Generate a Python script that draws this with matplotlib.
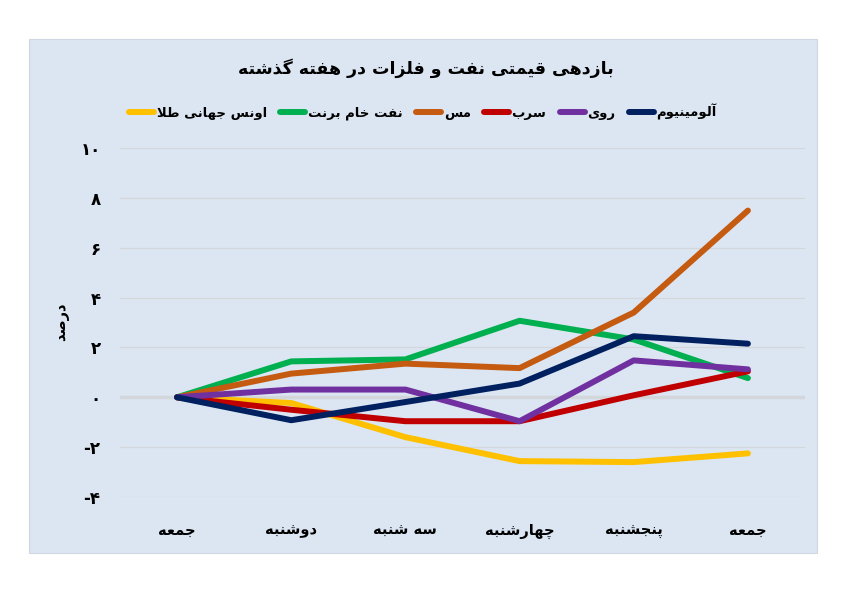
import matplotlib
matplotlib.use("Agg")
import matplotlib.pyplot as plt
from matplotlib.patches import Rectangle

# data (percent)
days = ["جمعه", "دوشنبه", "سه شنبه", "چهارشنبه", "پنجشنبه", "جمعه"]
gold = [0, -0.23, -1.6, -2.56, -2.6, -2.25]
brent = [0, 1.44, 1.52, 3.07, 2.32, 0.77]
copper = [0, 0.95, 1.35, 1.17, 3.4, 7.49]
lead = [0, -0.5, -0.96, -0.96, 0.08, 1.04]
zinc = [0, 0.31, 0.31, -0.96, 1.48, 1.12]
aluminium = [0, -0.92, -0.19, 0.55, 2.45, 2.15]

names = ["اونس جهانی طلا", "نفت خام برنت", "مس", "سرب", "روی", "آلومینیوم"]
colors = ["#FFC000", "#00B050", "#C55A11", "#C00000", "#7030A0", "#002060"]
yticks = [-4, -2, 0, 2, 4, 6, 8, 10]

title = "بازدهی قیمتی نفت و فلزات در هفته گذشته"
ylabel = "درصد"

# --- minimal persian shaping (matplotlib draws glyphs one by one, left to right)
FORMS = {
    "ا": (0xFE8D, 0xFE8E, None, None), "آ": (0xFE81, 0xFE82, None, None),
    "ب": (0xFE8F, 0xFE90, 0xFE91, 0xFE92), "پ": (0xFB56, 0xFB57, 0xFB58, 0xFB59),
    "ت": (0xFE95, 0xFE96, 0xFE97, 0xFE98), "ج": (0xFE9D, 0xFE9E, 0xFE9F, 0xFEA0),
    "چ": (0xFB7A, 0xFB7B, 0xFB7C, 0xFB7D), "خ": (0xFEA5, 0xFEA6, 0xFEA7, 0xFEA8),
    "د": (0xFEA9, 0xFEAA, None, None), "ذ": (0xFEAB, 0xFEAC, None, None),
    "ر": (0xFEAD, 0xFEAE, None, None), "ز": (0xFEAF, 0xFEB0, None, None),
    "س": (0xFEB1, 0xFEB2, 0xFEB3, 0xFEB4), "ش": (0xFEB5, 0xFEB6, 0xFEB7, 0xFEB8),
    "ص": (0xFEB9, 0xFEBA, 0xFEBB, 0xFEBC), "ط": (0xFEC1, 0xFEC2, 0xFEC3, 0xFEC4),
    "ع": (0xFEC9, 0xFECA, 0xFECB, 0xFECC), "ف": (0xFED1, 0xFED2, 0xFED3, 0xFED4),
    "ق": (0xFED5, 0xFED6, 0xFED7, 0xFED8), "گ": (0xFB92, 0xFB93, 0xFB94, 0xFB95),
    "ل": (0xFEDD, 0xFEDE, 0xFEDF, 0xFEE0), "م": (0xFEE1, 0xFEE2, 0xFEE3, 0xFEE4),
    "ن": (0xFEE5, 0xFEE6, 0xFEE7, 0xFEE8), "ه": (0xFEE9, 0xFEEA, 0xFEEB, 0xFEEC),
    "و": (0xFEED, 0xFEEE, None, None), "ی": (0xFBFC, 0xFBFD, 0xFBFE, 0xFBFF),
}
LAMALEF = {"ا": (0xFEFB, 0xFEFC), "آ": (0xFEF5, 0xFEF6)}


def fa(text):
    out = []
    i = 0
    n = len(text)
    while i < n:
        c = text[i]
        if c not in FORMS:
            out.append(c)
            i += 1
            continue
        prev = text[i - 1] if i > 0 else ""
        joins_prev = prev in FORMS and FORMS[prev][2] is not None
        if c == "ل" and i + 1 < n and text[i + 1] in LAMALEF:
            iso, fin = LAMALEF[text[i + 1]]
            out.append(chr(fin if joins_prev else iso))
            i += 2
            continue
        nxt = text[i + 1] if i + 1 < n else ""
        joins_next = FORMS[c][2] is not None and nxt in FORMS
        f = FORMS[c]
        if joins_prev and joins_next:
            g = f[3]
        elif joins_prev:
            g = f[1]
        elif joins_next:
            g = f[2]
        else:
            g = f[0]
        out.append(chr(g))
        i += 1
    return "".join(out)[::-1]


def fa_num(v):
    s = str(abs(v)).translate(str.maketrans("0123456789", "۰۱۲۳۴۵۶۷۸۹"))
    return "-" + s if v < 0 else s


plt.rcParams["font.family"] = ["DejaVu Sans"]
plt.rcParams["font.weight"] = "bold"

fig = plt.figure(figsize=(8.57, 5.94), dpi=100)
fig.patch.set_facecolor("white")
bg = "#DCE6F2"
fig.patches.append(Rectangle((29 / 857, 41 / 594), 788 / 857, 514 / 594,
                             transform=fig.transFigure, facecolor=bg,
                             edgecolor="#D0D7E0", lw=0.8, zorder=-5))

ax = fig.add_axes([120 / 857, 97 / 594, 685 / 857, 349 / 594])
ax.set_facecolor(bg)
for s in ax.spines.values():
    s.set_visible(False)

x = list(range(len(days)))
series = [gold, brent, copper, lead, zinc, aluminium]
for vals, name, col in zip(series, names, colors):
    ax.plot(x, vals, color=col, lw=4.3, label=fa(name),
            solid_capstyle="round", solid_joinstyle="round", zorder=3)

ax.set_xlim(-0.5, len(days) - 0.5)
ax.set_ylim(-4, 10)
ax.set_yticks(yticks)
ax.set_yticklabels([fa_num(v) for v in yticks], fontsize=12)
ax.set_xticks(x)
ax.set_xticklabels([fa(d) for d in days], fontsize=10.5, va="baseline")
ax.tick_params(axis="both", length=0)
ax.tick_params(axis="y", pad=14)
ax.tick_params(axis="x", pad=27)
ax.grid(axis="y", color="#D3D6DA", lw=0.9, zorder=1)
ax.axhline(0, color="#D3D6DA", lw=2.5, zorder=2)

fig.text(426 / 857, 1 - 68 / 594, fa(title), ha="center", va="center",
         fontsize=12.5, fontweight="bold")
fig.text(62 / 857, 1 - 322 / 594, fa(ylabel), ha="center", va="center",
         rotation=90, fontsize=10.5)

fig.legend(loc="center", bbox_to_anchor=(423 / 857, 1 - 112 / 594), ncol=6,
           frameon=False, fontsize=9.5, handlelength=1.9, handletextpad=0.2,
           columnspacing=1.0)

fig.savefig("out.png", dpi=100)
